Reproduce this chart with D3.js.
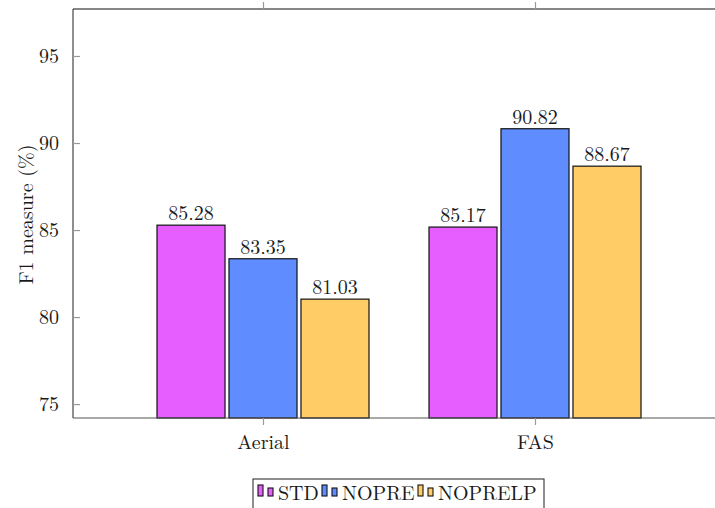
<!DOCTYPE html>
<html>
<head>
<meta charset="utf-8">
<script src="https://cdn.jsdelivr.net/npm/d3@7"></script>
<style>
  html, body { margin: 0; padding: 0; background: #fff; }
  svg { display: block; }
</style>
</head>
<body>
<svg id="chart" width="715" height="508"></svg>
<script>
// Categories, series and their F1 scores
const categories = ["Aerial", "FAS"];
const seriesNames = ["STD", "NOPRE", "NOPRELP"];
const stdValues = [85.28, 85.17];
const nopreValues = [83.35, 90.82];
const noprelpValues = [81.03, 88.67];
const yTicks = [75, 80, 85, 90, 95];
const seriesColors = ["#e65eff", "#5f8cff", "#ffcc66"];

const seriesValues = [stdValues, nopreValues, noprelpValues];
const FONT = "'Latin Modern Roman', 'Liberation Serif', serif";
const FS = 20;
const INK = "#1a1a1a";

const svg = d3.select("#chart");

// Plot frame (right edge sits just outside the window)
const plotLeft = 73, plotRight = 725, plotTop = 9, plotBottom = 418;

const y = d3.scaleLinear().domain([74.2, 97.7]).range([plotBottom, plotTop]);
const x = d3.scalePoint().domain(categories).range([263, 535]);
const xs = d3.scaleBand().domain(seriesNames).range([-106, 106]).paddingInner(0.055).paddingOuter(0);

const rows = (c, ci) => seriesNames.map((s, si) => ({ s, si, v: seriesValues[si][ci] }));

// Bars
const groups = svg.append("g").selectAll("g")
  .data(categories)
  .join("g")
  .attr("transform", d => `translate(${x(d)},0)`);

groups.selectAll("rect")
  .data(rows)
  .join("rect")
  .attr("x", d => xs(d.s))
  .attr("width", xs.bandwidth())
  .attr("y", d => y(d.v))
  .attr("height", d => plotBottom - y(d.v))
  .attr("fill", d => seriesColors[d.si])
  .attr("stroke", "#111")
  .attr("stroke-width", 1.2);

// Value labels above bars
groups.selectAll("text.val")
  .data(rows)
  .join("text")
  .attr("class", "val")
  .attr("x", d => xs(d.s) + xs.bandwidth() / 2)
  .attr("y", d => y(d.v) - 5)
  .attr("text-anchor", "middle")
  .style("font-family", FONT)
  .style("font-size", FS + "px")
  .attr("fill", INK)
  .text(d => d.v.toFixed(2));

// Frame
const frame = svg.append("g").attr("fill", "none").attr("stroke-width", 1.1);
frame.append("line").attr("x1", plotLeft).attr("x2", plotRight).attr("y1", plotTop).attr("y2", plotTop).attr("stroke", "#111");
frame.append("line").attr("x1", plotLeft).attr("x2", plotLeft).attr("y1", plotTop).attr("y2", plotBottom).attr("stroke", "#333");
frame.append("line").attr("x1", plotLeft).attr("x2", plotRight).attr("y1", plotBottom).attr("y2", plotBottom).attr("stroke", "#555");

// Y axis: inward ticks with labels
const yAxis = d3.axisLeft(y).tickValues(yTicks).tickSizeInner(-7).tickSizeOuter(0).tickPadding(14);
const yg = svg.append("g").attr("transform", `translate(${plotLeft},0)`).call(yAxis);
yg.select(".domain").remove();
yg.selectAll(".tick line").attr("stroke", "#999").attr("stroke-width", 1.2);
yg.selectAll(".tick text").style("font-family", FONT).style("font-size", FS + "px").attr("fill", INK);

// X axis: outward ticks below and above
const xAxis = d3.axisBottom(x).tickSizeInner(7).tickSizeOuter(0).tickPadding(6);
const xg = svg.append("g").attr("transform", `translate(0,${plotBottom})`).call(xAxis);
xg.select(".domain").remove();
xg.selectAll(".tick line").attr("stroke", "#999").attr("stroke-width", 1.2);
xg.selectAll(".tick text").style("font-family", FONT).style("font-size", FS + "px").attr("fill", INK).attr("dy", "0.9em");

const xTop = d3.axisTop(x).tickSizeInner(7).tickSizeOuter(0).tickFormat("");
const xtg = svg.append("g").attr("transform", `translate(0,${plotTop})`).call(xTop);
xtg.select(".domain").remove();
xtg.selectAll(".tick line").attr("stroke", "#999").attr("stroke-width", 1.2);

// Y axis title
svg.append("text")
  .attr("transform", `translate(33,${(plotTop + plotBottom) / 2 + 1}) rotate(-90)`)
  .attr("text-anchor", "middle")
  .style("font-family", FONT)
  .style("font-size", FS + "px")
  .attr("fill", INK)
  .text("F1 measure (%)");

// Legend
const lg = svg.append("g").attr("transform", "translate(253,479)");
lg.append("rect").attr("x", 0).attr("y", 0).attr("width", 291).attr("height", 40)
  .attr("fill", "#fff").attr("stroke", "#333").attr("stroke-width", 1.1);
const entryX = [5, 69, 165];
seriesNames.forEach((s, i) => {
  const e = lg.append("g").attr("transform", `translate(${entryX[i]},0)`);
  e.append("rect").attr("x", 0).attr("y", 6).attr("width", 5).attr("height", 11)
    .attr("fill", seriesColors[i]).attr("stroke", "#111").attr("stroke-width", 1.1);
  e.append("rect").attr("x", 10).attr("y", 9).attr("width", 5).attr("height", 8)
    .attr("fill", seriesColors[i]).attr("stroke", "#111").attr("stroke-width", 1.1);
  e.append("text").attr("x", 20).attr("y", 21)
    .style("font-family", FONT).style("font-size", FS + "px").attr("fill", INK).text(s);
});
</script>
</body>
</html>
